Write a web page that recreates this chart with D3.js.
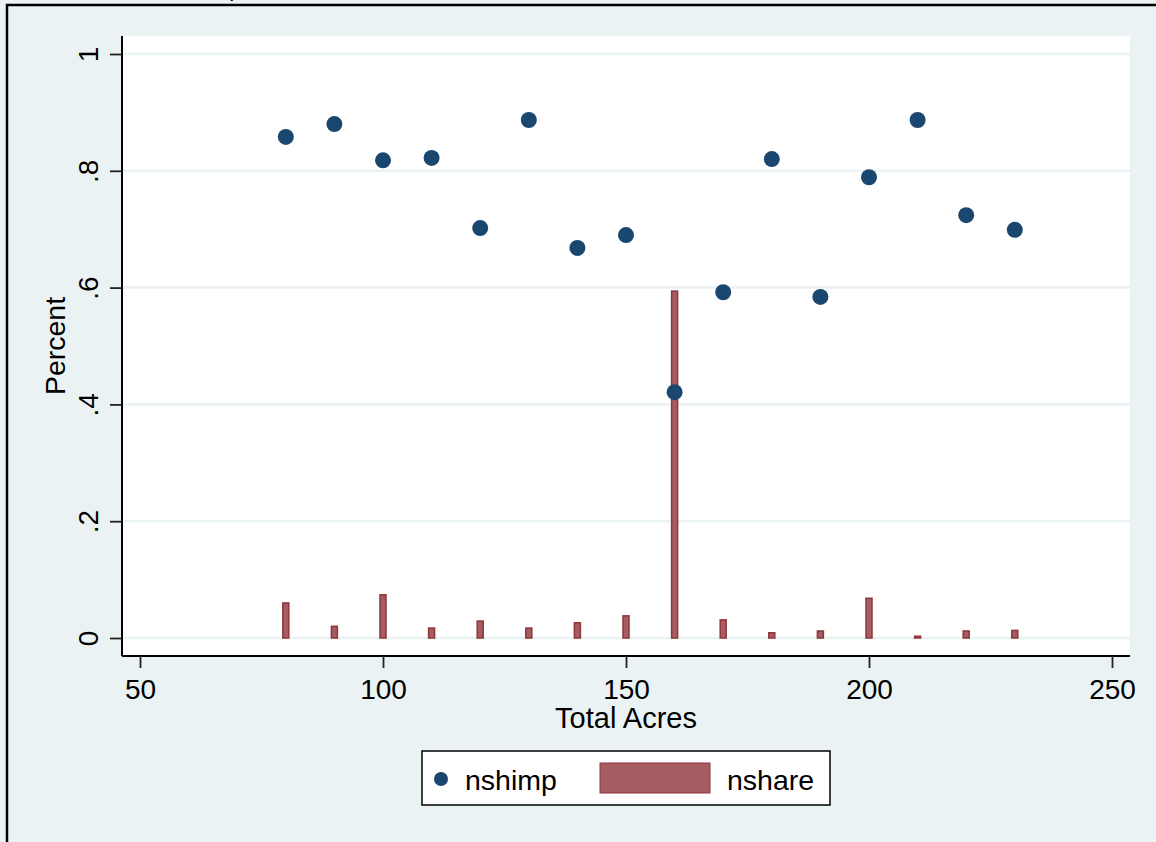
<!DOCTYPE html>
<html>
<head>
<meta charset="utf-8">
<script src="https://cdn.jsdelivr.net/npm/d3@7"></script>
<style>
  html, body { margin: 0; padding: 0; background: #EAF2F3; }
  svg { display: block; }
  text { font-family: "Liberation Sans", Arial, sans-serif; fill: #000; }
</style>
</head>
<body>
<svg id="chart" width="1156" height="842"></svg>
<script>
// ---- data ----
const acres   = [80, 90, 100, 110, 120, 130, 140, 150, 160, 170, 180, 190, 200, 210, 220, 230];
const nshimp  = [0.858, 0.880, 0.818, 0.822, 0.702, 0.887, 0.668, 0.690, 0.421, 0.592, 0.820, 0.584, 0.789, 0.887, 0.724, 0.699];
const nshare  = [0.060, 0.020, 0.074, 0.017, 0.029, 0.017, 0.026, 0.038, 0.594, 0.031, 0.009, 0.012, 0.068, 0.003, 0.012, 0.013];
const xTicks  = [50, 100, 150, 200, 250];
const yTicks  = [0, 0.2, 0.4, 0.6, 0.8, 1];
const yTickLabels = ["0", ".2", ".4", ".6", ".8", "1"];
const seriesNames = ["nshimp", "nshare"];

// ---- layout ----
const W = 1156, H = 842;
const plot = { left: 122, right: 1130, top: 36, bottom: 656 };
const navy = "#1A476F", maroonFill = "#A55D62", maroonLine = "#90353B";
const bg = "#EAF2F3";

const svg = d3.select("#chart");

svg.append("rect").attr("x", 0).attr("y", 0).attr("width", W).attr("height", H).attr("fill", bg);
// outer border (extends beyond right/bottom)
svg.append("rect").attr("x", 7).attr("y", 5).attr("width", W + 20).attr("height", H + 20)
  .attr("fill", "none").attr("stroke", "#000").attr("stroke-width", 2.5);
// clipped caption fragment at top
svg.append("text").attr("x", 229).attr("y", -4).attr("font-family", "Liberation Serif")
  .attr("font-size", 24).text("p");

// plot region
svg.append("rect").attr("x", plot.left).attr("y", plot.top)
  .attr("width", plot.right - plot.left).attr("height", plot.bottom - plot.top).attr("fill", "#fff");

const x = d3.scaleLinear().domain([50, 250]).range([140, 1112]);
const y = d3.scaleLinear().domain([0, 1]).range([638, 54]);

// gridlines
svg.append("g").selectAll("line").data(yTicks).join("line")
  .attr("x1", plot.left).attr("x2", plot.right)
  .attr("y1", d => y(d)).attr("y2", d => y(d))
  .attr("stroke", bg).attr("stroke-width", 2.5);

// y axis
const yAxis = d3.axisLeft(y).tickValues(yTicks).tickSize(12).tickFormat((d, i) => yTickLabels[i]);
const gy = svg.append("g").attr("transform", `translate(${plot.left},0)`).call(yAxis);
gy.select(".domain").attr("d", `M0,${plot.top}V${plot.bottom}`).attr("stroke", "#000").attr("stroke-width", 2);
gy.selectAll(".tick line").attr("stroke", "#222").attr("stroke-width", 1.8);
gy.selectAll(".tick text")
  .attr("x", null).attr("dy", null)
  .attr("font-family", "Liberation Sans, Arial, sans-serif")
  .attr("font-size", 28).attr("fill", "#000")
  .attr("text-anchor", "middle")
  .attr("transform", "translate(-24,0) rotate(-90)");

// x axis
const xAxis = d3.axisBottom(x).tickValues(xTicks).tickSize(12).tickFormat(d3.format("d"));
const gx = svg.append("g").attr("transform", `translate(0,${plot.bottom})`).call(xAxis);
gx.select(".domain").attr("d", `M${plot.left},0H${plot.right}`).attr("stroke", "#000").attr("stroke-width", 2);
gx.selectAll(".tick line").attr("stroke", "#222").attr("stroke-width", 1.8);
gx.selectAll(".tick text")
  .attr("y", 43).attr("dy", null)
  .attr("font-family", "Liberation Sans, Arial, sans-serif")
  .attr("font-size", 28).attr("fill", "#000");

// axis titles
svg.append("text").attr("text-anchor", "middle")
  .attr("transform", `translate(65,${(plot.top + plot.bottom) / 2}) rotate(-90)`)
  .attr("font-size", 28.5).text("Percent");
svg.append("text").attr("text-anchor", "middle")
  .attr("x", (plot.left + plot.right) / 2).attr("y", 728)
  .attr("font-size", 29).text("Total Acres");

// bars (nshare)
const barW = 6;
svg.append("g").selectAll("rect").data(acres).join("rect")
  .attr("x", (d) => x(d) - barW / 2)
  .attr("y", (d, i) => y(nshare[i]))
  .attr("width", barW)
  .attr("height", (d, i) => y(0) - y(nshare[i]))
  .attr("fill", maroonFill).attr("stroke", maroonLine).attr("stroke-width", 1.5);

// points (nshimp)
svg.append("g").selectAll("circle").data(acres).join("circle")
  .attr("cx", d => x(d)).attr("cy", (d, i) => y(nshimp[i]))
  .attr("r", 8).attr("fill", navy);

// legend
const lg = svg.append("g");
lg.append("rect").attr("x", 422).attr("y", 751).attr("width", 408).attr("height", 54)
  .attr("fill", "#fff").attr("stroke", "#000").attr("stroke-width", 1.5);
lg.append("circle").attr("cx", 441).attr("cy", 779).attr("r", 7).attr("fill", navy);
lg.append("text").attr("x", 465).attr("y", 790).attr("font-size", 28.5).text(seriesNames[0]);
lg.append("rect").attr("x", 600).attr("y", 763).attr("width", 110).attr("height", 30)
  .attr("fill", maroonFill).attr("stroke", maroonLine).attr("stroke-width", 1);
lg.append("text").attr("x", 727).attr("y", 790).attr("font-size", 28.5).text(seriesNames[1]);
</script>
</body>
</html>
